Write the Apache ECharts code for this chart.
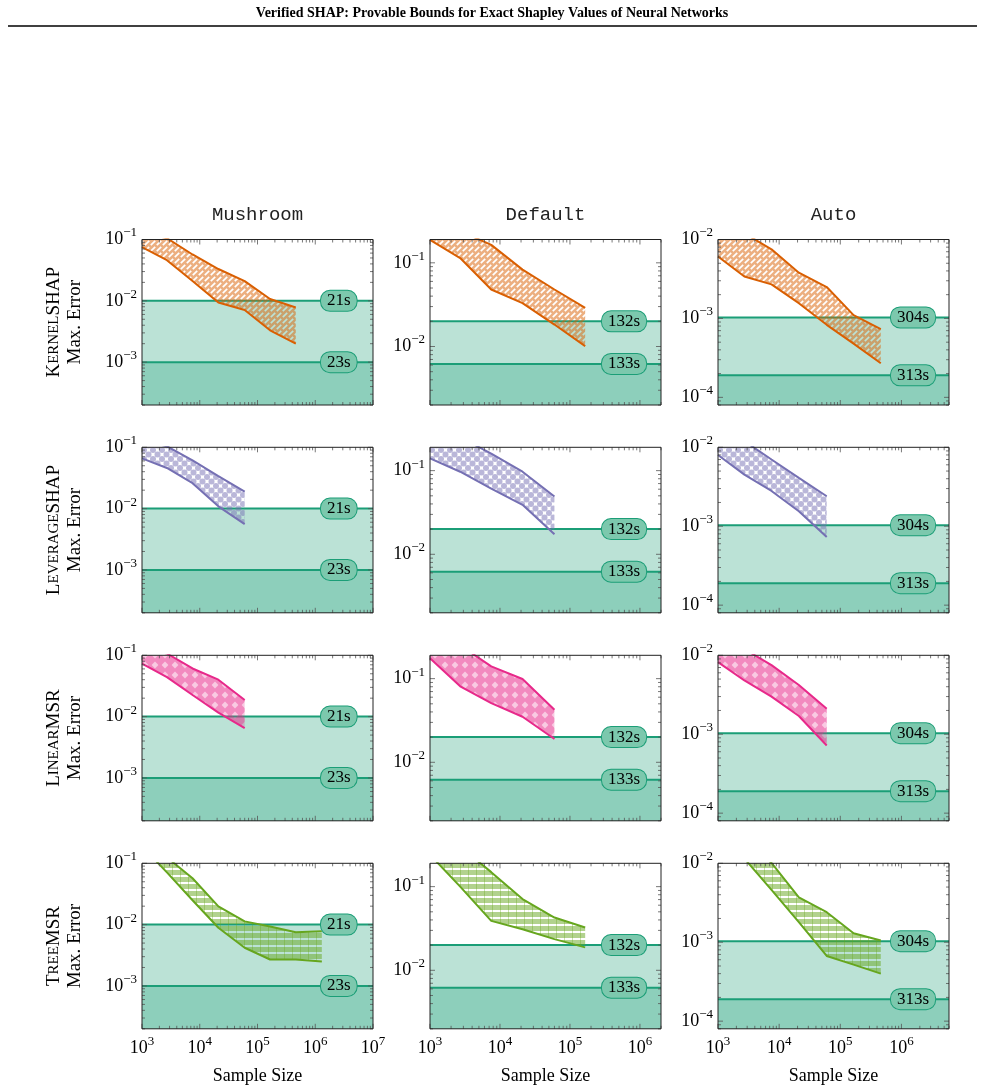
<!DOCTYPE html>
<html>
<head>
<meta charset="utf-8">
<script src="https://cdn.jsdelivr.net/npm/echarts@6.0.0/dist/echarts.min.js"></script>
<style>
  html, body { margin: 0; padding: 0; background: #fff; }
  #chart { width: 985px; height: 1091px; }
</style>
</head>
<body>
<div id="chart"></div>
<script>
// sample sizes used by the estimators (x axis)
const sampleSizes = [1000, 2700, 7500, 21000, 60000, 165000, 460000, 1300000];

const datasets = ["Mushroom", "Default", "Auto"];
const methodCaps = [["K", "ERNEL", "SHAP"], ["L", "EVERAGE", "SHAP"], ["L", "INEAR", "MSR"], ["T", "REE", "MSR"]];
const methodColors = ["#d95f02", "#7570b3", "#e7298a", "#66a61e"];

// verified SHAP bounds (horizontal lines) and their run times
const mushroomBounds = [0.01, 0.001];
const mushroomTimes = ["21s", "23s"];
const defaultBounds = [0.02, 0.0062];
const defaultTimes = ["132s", "133s"];
const autoBounds = [0.00103, 0.00019];
const autoTimes = ["304s", "313s"];

// estimator error bands: upper (Hi) and lower (Lo) max. error
const kernelMushroomHi = [0.13, 0.105, 0.057, 0.033, 0.021, 0.0107, 0.0078];
const kernelMushroomLo = [0.075, 0.046, 0.021, 0.0094, 0.0071, 0.0033, 0.0020];
const kernelDefaultHi = [0.3, 0.24, 0.164, 0.083, 0.048, 0.029];
const kernelDefaultLo = [0.188, 0.114, 0.048, 0.033, 0.0183, 0.0101];
const kernelAutoHi = [0.016, 0.012, 0.0075, 0.0038, 0.0025, 0.0011, 0.00073];
const kernelAutoLo = [0.0061, 0.0034, 0.0027, 0.00156, 0.00083, 0.00048, 0.00027];

const leverageMushroomHi = [0.13, 0.104, 0.061, 0.034, 0.019];
const leverageMushroomLo = [0.066, 0.046, 0.026, 0.0109, 0.0056];
const leverageDefaultHi = [0.3, 0.25, 0.16, 0.097, 0.049];
const leverageDefaultLo = [0.14, 0.097, 0.061, 0.039, 0.0174];
const leverageAutoHi = [0.016, 0.012, 0.007, 0.0041, 0.0024];
const leverageAutoLo = [0.008, 0.0045, 0.0028, 0.00155, 0.00073];

const linearMushroomHi = [0.13, 0.107, 0.061, 0.040, 0.0187];
const linearMushroomLo = [0.073, 0.044, 0.0225, 0.0116, 0.0065];
const linearDefaultHi = [0.3, 0.25, 0.14, 0.099, 0.0425];
const linearDefaultLo = [0.175, 0.081, 0.051, 0.035, 0.019];
const linearAutoHi = [0.016, 0.012, 0.0075, 0.0042, 0.0021];
const linearAutoLo = [0.0082, 0.0048, 0.003, 0.0017, 0.00072];

const treeMushroomHi = [0.3, 0.125, 0.057, 0.0198, 0.0113, 0.0093, 0.0075, 0.0078];
const treeMushroomLo = [0.19, 0.071, 0.025, 0.0089, 0.0042, 0.0027, 0.0027, 0.0025];
const treeDefaultHi = [0.45, 0.3, 0.149, 0.071, 0.0427, 0.0325];
const treeDefaultLo = [0.24, 0.1, 0.039, 0.031, 0.0236, 0.0188];
const treeAutoHi = [0.04, 0.02, 0.0101, 0.0037, 0.0024, 0.0013, 0.00105];
const treeAutoLo = [0.025, 0.0115, 0.0046, 0.0018, 0.00067, 0.00052, 0.0004];

// axis ranges per dataset column
const xMin = 1000;
const xMaxes = [1e7, 2e6, 6e6];
const yMins = [2e-4, 2e-3, 8e-5];
const yMaxes = [0.1, 0.19, 0.01];

const bounds = [mushroomBounds, defaultBounds, autoBounds];
const times = [mushroomTimes, defaultTimes, autoTimes];
const bands = [
  [[kernelMushroomLo, kernelMushroomHi], [kernelDefaultLo, kernelDefaultHi], [kernelAutoLo, kernelAutoHi]],
  [[leverageMushroomLo, leverageMushroomHi], [leverageDefaultLo, leverageDefaultHi], [leverageAutoLo, leverageAutoHi]],
  [[linearMushroomLo, linearMushroomHi], [linearDefaultLo, linearDefaultHi], [linearAutoLo, linearAutoHi]],
  [[treeMushroomLo, treeMushroomHi], [treeDefaultLo, treeDefaultHi], [treeAutoLo, treeAutoHi]]
];

const serif = "'Liberation Serif', 'DejaVu Serif', serif";
const mono = "'Liberation Mono', 'DejaVu Sans Mono', monospace";

const gridLefts = [142, 430, 718];
const gridTops = [239.5, 447.3, 655.3, 863.3];
const gridW = 231;
const gridH = 165.5;
const labelOffsets = [-52, -59, -58];

// fill patterns for the bands
function makeTile(w, h, draw) {
  const c = document.createElement("canvas");
  c.width = w;
  c.height = h;
  draw(c.getContext("2d"), w, h);
  return { image: c, repeat: "repeat" };
}
const patterns = [
  makeTile(6, 6, function (g, w, h) {
    g.fillStyle = "rgba(217,95,2,0.5)";
    g.fillRect(0, 0, w, h);
    g.globalCompositeOperation = "destination-out";
    g.lineWidth = 1.7;
    g.beginPath();
    g.moveTo(0.8, 5.2);
    g.lineTo(5.2, 0.8);
    g.stroke();
  }),
  makeTile(9, 9, function (g) {
    g.fillStyle = "rgba(117,112,179,0.5)";
    [[4.5, 4.5], [0, 0], [9, 0], [0, 9], [9, 9]].forEach(function (p) {
      g.beginPath();
      g.arc(p[0], p[1], 3.0, 0, Math.PI * 2);
      g.fill();
    });
  }),
  makeTile(10, 10, function (g, w, h) {
    g.fillStyle = "rgba(231,41,138,0.55)";
    g.fillRect(0, 0, w, h);
    g.globalCompositeOperation = "destination-out";
    g.beginPath();
    g.moveTo(5, 1.6);
    g.lineTo(8.4, 5);
    g.lineTo(5, 8.4);
    g.lineTo(1.6, 5);
    g.closePath();
    g.fill();
  }),
  makeTile(8, 7, function (g, w, h) {
    g.fillStyle = "rgba(102,166,30,0.5)";
    g.fillRect(0, 2, w, 5);
    g.fillStyle = "rgba(102,166,30,0.35)";
    g.fillRect(4, 0, 1, h);
  })
];

function powLabel(v) {
  const l = Math.log10(v);
  const e = Math.round(l);
  if (Math.abs(l - e) > 1e-6) return "";
  return "{b|10}{s|" + (e < 0 ? "\u2212" + (-e) : e) + "}";
}
const powRich = {
  b: { fontFamily: serif, fontSize: 18, color: "#000", lineHeight: 26 },
  s: { fontFamily: serif, fontSize: 13, color: "#000", lineHeight: 13, verticalAlign: "top" }
};

function logTicks(min, max) {
  const out = [];
  for (let e = Math.floor(Math.log10(min)); e <= Math.ceil(Math.log10(max)); e++) {
    for (let m = 1; m <= 9; m++) {
      const v = m * Math.pow(10, e);
      if (v >= min * 0.9999 && v <= max * 1.0001) out.push([v, m === 1]);
    }
  }
  return out;
}

const grids = [];
const xAxes = [];
const yAxes = [];
const series = [];

for (let r = 0; r < 4; r++) {
  for (let c = 0; c < 3; c++) {
    const gi = r * 3 + c;
    const xMax = xMaxes[c];
    const yMin = yMins[c];
    const yMax = yMaxes[c];
    grids.push({ left: gridLefts[c], top: gridTops[r], width: gridW, height: gridH });
    xAxes.push({
      type: "log", gridIndex: gi, min: xMin, max: xMax,
      axisLine: { show: false }, axisTick: { show: false }, splitLine: { show: false },
      axisLabel: { show: r === 3, margin: 6, formatter: powLabel, rich: powRich },
      name: r === 3 ? "Sample Size" : "", nameLocation: "middle", nameGap: 38,
      nameTextStyle: { fontFamily: serif, fontSize: 18, color: "#000" }
    });
    const caps = methodCaps[r];
    yAxes.push({
      type: "log", gridIndex: gi, min: yMin, max: yMax,
      axisLine: { show: false }, axisTick: { show: false }, splitLine: { show: false },
      axisLabel: { margin: 5, formatter: powLabel, rich: powRich },
      name: c === 0 ? "{c|" + caps[0] + "}{s|" + caps[1] + "}{c|" + caps[2] + "}\n{c|Max. Error}" : "",
      nameLocation: "middle", nameRotate: 90, nameGap: 56,
      nameTextStyle: {
        rich: {
          c: { fontFamily: serif, fontSize: 19, color: "#000", lineHeight: 21 },
          s: { fontFamily: serif, fontSize: 15, color: "#000", lineHeight: 21 }
        }
      }
    });

    // verified bounds: filled regions and lines
    const bv = bounds[c];
    const fills = ["#bbe2d6", "#8dcfbb"];
    bv.forEach(function (v, j) {
      series.push({
        type: "line", xAxisIndex: gi, yAxisIndex: gi, z: 1, silent: true,
        data: [[xMin, v], [xMax, v]], symbol: "none",
        lineStyle: { color: "#1b9e77", width: 2 },
        areaStyle: { color: fills[j], opacity: 1, origin: "start" }
      });
    });

    // estimator band
    const lo = bands[r][c][0];
    const hi = bands[r][c][1];
    const xs = sampleSizes.slice(0, lo.length);
    const pat = patterns[r];
    series.push({
      type: "custom", xAxisIndex: gi, yAxisIndex: gi, z: 2, silent: true, clip: true,
      data: xs.map(function (x, i) { return [x, lo[i], hi[i]]; }),
      encode: { x: 0, y: [1, 2] },
      renderItem: function (params, api) {
        if (params.dataIndex !== 0) return;
        const pts = [];
        for (let i = 0; i < xs.length; i++) pts.push(api.coord([xs[i], hi[i]]));
        for (let i = xs.length - 1; i >= 0; i--) pts.push(api.coord([xs[i], lo[i]]));
        return { type: "polygon", shape: { points: pts }, style: { fill: pat } };
      }
    });
    [hi, lo].forEach(function (arr) {
      series.push({
        type: "line", xAxisIndex: gi, yAxisIndex: gi, z: 3, silent: true,
        data: xs.map(function (x, i) { return [x, arr[i]]; }), symbol: "none",
        lineStyle: { color: methodColors[r], width: 2 }
      });
    });

    // run-time labels
    bv.forEach(function (v, j) {
      series.push({
        type: "line", xAxisIndex: gi, yAxisIndex: gi, z: 10, silent: true,
        data: [[xMin, v], [xMax, v]], symbol: "none",
        lineStyle: { width: 0, opacity: 0 },
        endLabel: {
          show: true, formatter: times[c][j], distance: 0, offset: [labelOffsets[c], 0],
          fontFamily: serif, fontSize: 17, color: "#000", lineHeight: 18,
          backgroundColor: "#7cc8ad", borderColor: "#1b9e77", borderWidth: 1,
          borderRadius: 9, padding: [1, 6]
        }
      });
    });

    // frame and log ticks on all four sides
    const xt = logTicks(xMin, xMax);
    const yt = logTicks(yMin, yMax);
    series.push({
      type: "custom", xAxisIndex: gi, yAxisIndex: gi, z: 20, silent: true,
      data: [[xMin, yMin]],
      renderItem: function (params, api) {
        const rc = params.coordSys;
        const st = { stroke: "#555", lineWidth: 0.8 };
        const kids = [];
        xt.forEach(function (t) {
          const px = api.coord([t[0], yMin])[0];
          const len = t[1] ? 5 : 3;
          kids.push({ type: "line", shape: { x1: px, y1: rc.y + rc.height, x2: px, y2: rc.y + rc.height - len }, style: st });
          kids.push({ type: "line", shape: { x1: px, y1: rc.y, x2: px, y2: rc.y + len }, style: st });
        });
        yt.forEach(function (t) {
          const py = api.coord([xMin, t[0]])[1];
          const len = t[1] ? 5 : 3;
          kids.push({ type: "line", shape: { x1: rc.x, y1: py, x2: rc.x + len, y2: py }, style: st });
          kids.push({ type: "line", shape: { x1: rc.x + rc.width, y1: py, x2: rc.x + rc.width - len, y2: py }, style: st });
        });
        kids.push({ type: "rect", shape: { x: rc.x, y: rc.y, width: rc.width, height: rc.height }, style: { fill: "none", stroke: "#222", lineWidth: 1 } });
        return { type: "group", children: kids };
      }
    });
  }
}

const graphics = [
  { type: "text", x: 492, y: 13, style: { text: "Verified SHAP: Provable Bounds for Exact Shapley Values of Neural Networks", fontFamily: serif, fontSize: 14, fontWeight: "bold", fill: "#000", align: "center", verticalAlign: "middle" } },
  { type: "line", shape: { x1: 8, y1: 26, x2: 977, y2: 26 }, style: { stroke: "#000", lineWidth: 1.5 } }
];
datasets.forEach(function (d, c) {
  graphics.push({ type: "text", x: gridLefts[c] + gridW / 2, y: 215, style: { text: d, fontFamily: mono, fontSize: 19, fill: "#222", align: "center", verticalAlign: "middle" } });
});

const chart = echarts.init(document.getElementById("chart"));
chart.setOption({
  animation: false,
  backgroundColor: "#fff",
  textStyle: { fontFamily: serif },
  graphic: graphics,
  grid: grids,
  xAxis: xAxes,
  yAxis: yAxes,
  series: series
});
</script>
</body>
</html>
